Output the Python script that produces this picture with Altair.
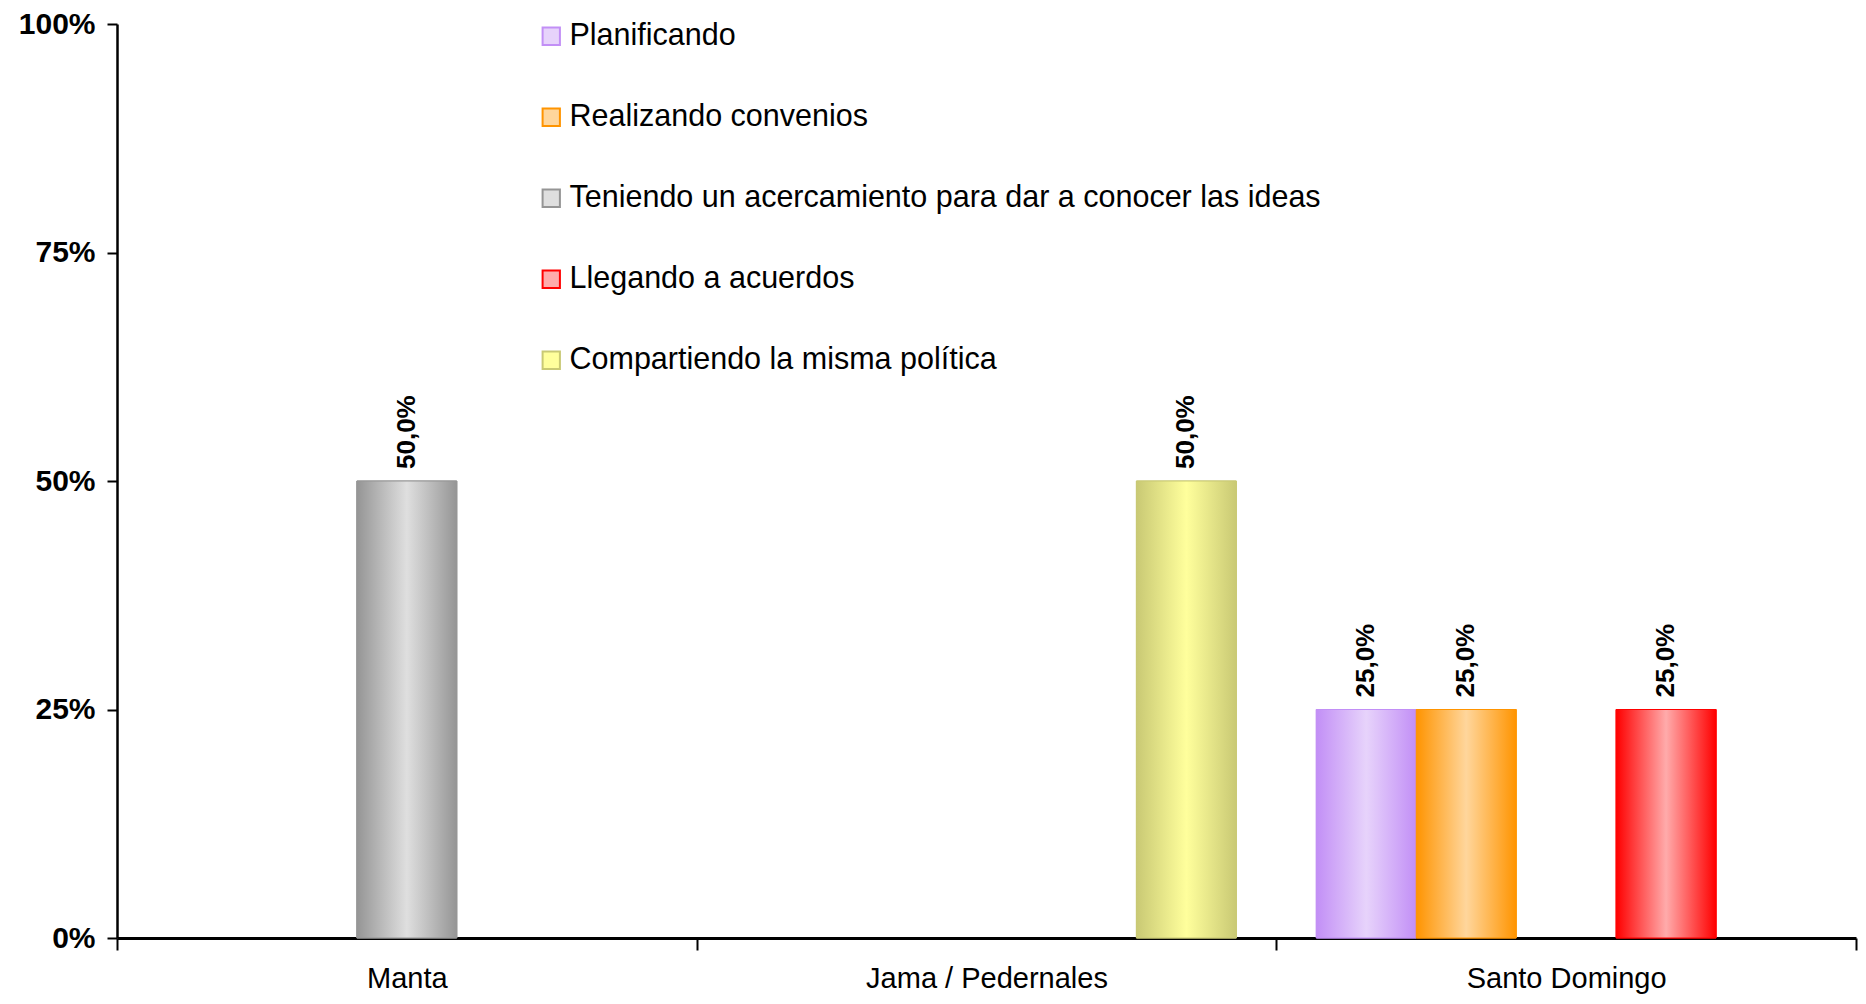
import altair as alt
import pandas as pd

categories = ["Manta", "Jama / Pedernales", "Santo Domingo"]
series = [
    "Planificando",
    "Realizando convenios",
    "Teniendo un acercamiento para dar a conocer las ideas",
    "Llegando a acuerdos",
    "Compartiendo la misma política",
]
manta_values = [0, 0, 50, 0, 0]
jama_values = [0, 0, 0, 0, 50]
santo_values = [25, 25, 0, 25, 0]

edge_colors = ["#C28FF6", "#FF9400", "#959595", "#FF0000", "#C9C974"]
center_colors = ["#E7D3FB", "#FFD69C", "#DFDFDF", "#FFABAB", "#FFFF9C"]

rows = []
for cat, vals in zip(categories, [manta_values, jama_values, santo_values]):
    for s, v in zip(series, vals):
        rows.append({"category": cat, "series": s, "value": v})
df = pd.DataFrame(rows)

FONT = "Liberation Sans"

x_enc = alt.X(
    "category:N",
    scale=alt.Scale(domain=categories, paddingInner=0, paddingOuter=0),
    axis=alt.Axis(
        title=None, labelAngle=0, tickBand="extent", labelFont=FONT,
        labelFontSize=29, labelColor="black", labelPadding=14, labelLimit=1000,
        domainColor="black", domainWidth=3, tickColor="black", tickWidth=2,
        tickSize=12, grid=False,
    ),
)
xo_enc = alt.XOffset("series:N", scale=alt.Scale(domain=series, paddingInner=0, paddingOuter=0.4))
y_enc = alt.Y(
    "value:Q",
    scale=alt.Scale(domain=[0, 100], nice=False),
    axis=alt.Axis(
        title=None, values=[0, 25, 50, 75, 100], labelExpr="datum.value + '%'",
        labelFont=FONT, labelFontSize=30, labelFontWeight="bold", labelColor="black",
        labelPadding=12, domainColor="black", domainWidth=2.5, tickColor="black",
        tickWidth=2, tickSize=10, grid=False,
    ),
)

base = alt.Chart(df).transform_filter("datum.value > 0")

legend_layer = base.mark_bar().encode(
    x=x_enc, xOffset=xo_enc, y=y_enc,
    fill=alt.Fill("series:N", scale=alt.Scale(domain=series, range=center_colors),
                  legend=alt.Legend(title=None)),
    stroke=alt.Stroke("series:N", scale=alt.Scale(domain=series, range=edge_colors),
                      legend=alt.Legend(title=None)),
)

layers = [legend_layer]
for s, e, c in zip(series, edge_colors, center_colors):
    grad = alt.Gradient(
        gradient="linear", x1=0, x2=1, y1=0, y2=0,
        stops=[
            alt.GradientStop(color=e, offset=0),
            alt.GradientStop(color=c, offset=0.5),
            alt.GradientStop(color=e, offset=1),
        ],
    )
    layers.append(
        base.transform_filter(alt.datum.series == s)
        .mark_bar(fill=grad, stroke=e, strokeWidth=1)
        .encode(x=x_enc, xOffset=xo_enc, y=y_enc)
    )

labels = base.transform_calculate(
    label="replace(format(datum.value, '.1f'), '.', ',') + '%'"
).mark_text(
    angle=270, align="left", baseline="middle", dx=12,
    font=FONT, fontSize=26, fontWeight="bold", color="black",
).encode(x=x_enc, xOffset=xo_enc, y=y_enc, text="label:N")
layers.append(labels)

chart = alt.layer(*layers).properties(
    width=1739, height=914,
    autosize=alt.AutoSizeParams(type="none"),
    padding={"left": 109, "top": 16, "right": 2, "bottom": 58},
    background="white",
).configure_view(stroke=None).configure_legend(
    orient="none", legendX=419, legendY=-3, direction="vertical",
    labelFont=FONT, labelFontSize=30.5, labelColor="black", labelLimit=1200,
    symbolType="square", symbolSize=300, symbolStrokeWidth=2,
    rowPadding=50, labelOffset=3,
)

chart.save("out.html", embed_options={"renderer": "svg", "actions": False})
